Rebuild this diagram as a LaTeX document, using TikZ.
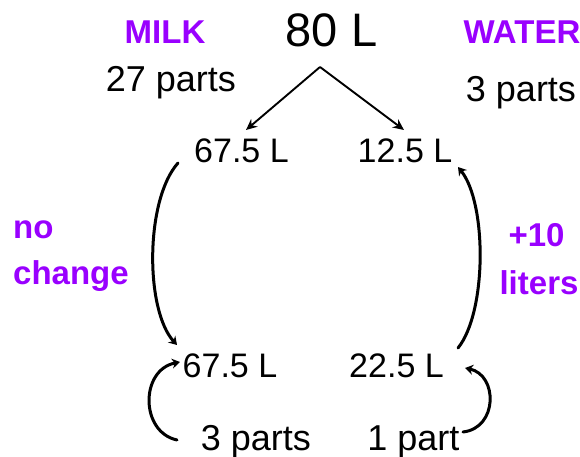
\documentclass[tikz,border=0pt]{standalone}
\usepackage{fontspec}
\setmainfont{Liberation Sans}
\usetikzlibrary{arrows.meta}
\definecolor{purp}{HTML}{9900FF}
\begin{document}
\begin{tikzpicture}[x=1pt,y=-1pt,
  lbl/.style={inner sep=0pt, anchor=base},
  bigtxt/.style={lbl,font=\fontsize{47}{56}\selectfont},
  numtxt/.style={lbl,font=\fontsize{34}{40}\selectfont},
  parttxt/.style={lbl,font=\fontsize{36}{42}\selectfont},
  purptxt/.style={lbl,text=purp,font=\bfseries\fontsize{33}{40}\selectfont},
  splitarrow/.style={line width=1.9pt,-{Stealth[length=11pt,width=10pt]}},
  curvearrow/.style={line width=3pt,line cap=round,-{Stealth[length=8pt,width=10pt]}}
]
\useasboundingbox (0,0) rectangle (580,457);
% texts
\node[bigtxt] (total) at (331.5,47) {80 L};
\node[purptxt] (milk) at (165,44) {MILK};
\node[parttxt] (milkparts) at (171,92) {27 parts};
\node[purptxt] (water) at (522,44) {WATER};
\node[parttxt] (waterparts) at (521,102) {3 parts};
\node[numtxt] (milkA) at (241.5,163) {67.5 L};
\node[numtxt] (waterA) at (405,163) {12.5 L};
\node[numtxt] (milkB) at (230,377) {67.5 L};
\node[numtxt] (waterB) at (396.5,377) {22.5 L};
\node[parttxt] (ratioM) at (256,450) {3 parts};
\node[parttxt] (ratioW) at (413.5,450) {1 part};
\node[purptxt,anchor=base west] (no) at (13,238) {no};
\node[purptxt,anchor=base west] (change) at (13,284) {change};
\node[purptxt] (plus) at (536.5,246) {+10};
\node[purptxt] (liters) at (539,294) {liters};
% connector end points
\coordinate (apex) at (320,67);
\coordinate (splitL) at (246,130);
\coordinate (splitR) at (404,130);
\coordinate (mAtop) at (178,163);
\coordinate (mBtop) at (177,345);
\coordinate (wAtop) at (458,167);
\coordinate (wBtop) at (458,348);
\coordinate (mBleft) at (180,362);
\coordinate (mRlow) at (177,440);
\coordinate (wBright) at (465,368);
\coordinate (wRlow) at (463,432);
% connectors
\draw[splitarrow] (apex) -- (splitL);
\draw[splitarrow] (apex) -- (splitR);
\draw[curvearrow] (mAtop) .. controls (145,200) and (145,310) .. (mBtop);
\draw[curvearrow] (wBtop) .. controls (487,312) and (487,203) .. (wAtop);
\draw[curvearrow] (mRlow) .. controls (140,432) and (140,370) .. (mBleft);
\draw[curvearrow] (wRlow) .. controls (498,428) and (498,375) .. (wBright);
\end{tikzpicture}
\end{document}
